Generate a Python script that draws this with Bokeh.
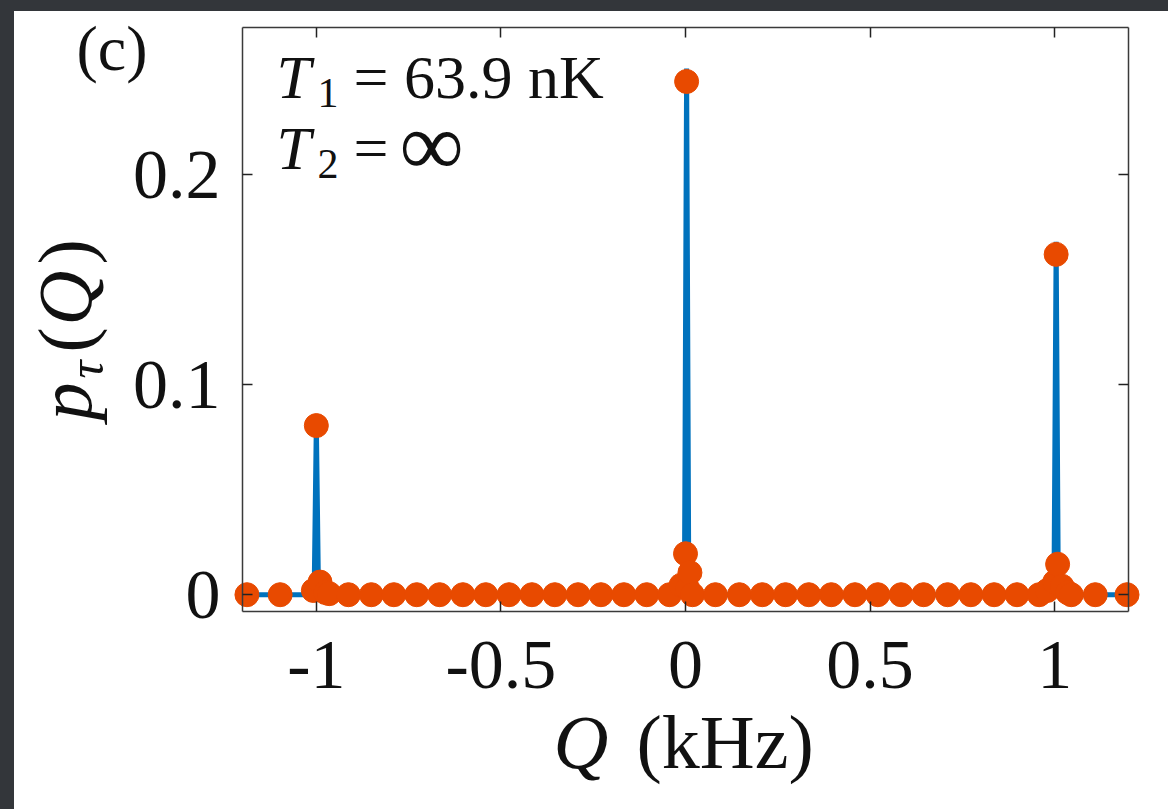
import math
from bokeh.plotting import figure
from bokeh.models import Label, LinearAxis, FixedTicker, Range1d, Spacer
from bokeh.layouts import column, row
from bokeh.embed import file_html
from bokeh.resources import INLINE

# ---- data ----
q_markers = [-1.188, -1.098,
             -1.008, -1.000, -0.990, -0.975, -0.965,
             -0.913, -0.851, -0.790, -0.728, -0.666, -0.603, -0.541, -0.478,
             -0.416, -0.354, -0.291, -0.229, -0.167, -0.105, -0.043,
             -0.012, 0.000, 0.003, 0.006, 0.012,
             0.019, 0.081, 0.146, 0.208, 0.271, 0.334, 0.395, 0.459, 0.521,
             0.584, 0.645, 0.710, 0.773, 0.836, 0.898, 0.958,
             0.980, 1.000, 1.004, 1.008, 1.020, 1.035, 1.045,
             1.110, 1.196]
p_markers = [0.0, 0.0,
             0.002, 0.0805, 0.006, 0.001, 0.0005,
             0.0, 0.0, 0.0, 0.0, 0.0, 0.0, 0.0, 0.0,
             0.0, 0.0, 0.0, 0.0, 0.0, 0.0, 0.0,
             0.0045, 0.0195, 0.2443, 0.003, 0.0105,
             0.0, 0.0, 0.0, 0.0, 0.0, 0.0, 0.0, 0.0, 0.0,
             0.0, 0.0, 0.0, 0.0, 0.0, 0.0, 0.0,
             0.002, 0.006, 0.162, 0.0145, 0.004, 0.001, 0.0,
             0.0, 0.0]

q_line = [-1.188, -1.006, -1.000, -0.994, -0.003, 0.003, 0.009, 0.998, 1.004, 1.010, 1.196]
p_line = [0.0, 0.0, 0.082, 0.0, 0.0, 0.2505, 0.0, 0.0, 0.168, 0.0, 0.0]

x_ticks = [-1, -0.5, 0, 0.5, 1]
x_tick_labels = ["-1", "-0.5", "0", "0.5", "1"]
y_ticks = [0, 0.1, 0.2]
y_tick_labels = ["0", "0.1", "0.2"]

X0, X1 = -1.2, 1.2
Y0, Y1 = -0.008, 0.27

# axes box position on the page (px)
FL, FR, FT, FB = 242, 1128, 27, 611
OFF_X, OFF_Y = 14, 11
W, H = 1168 - OFF_X, 809 - OFF_Y

FONT = "Liberation Serif"
INK = "#111111"
AXC = "#3a3a3a"


def dx(px):
    return X0 + (px - FL) * (X1 - X0) / (FR - FL)


def dy(py):
    return Y1 - (py - FT) * (Y1 - Y0) / (FB - FT)


# the frame covers the whole canvas; the axes box is drawn with fixed-location axes
p = figure(width=W, height=H,
           x_range=Range1d(dx(OFF_X), dx(1168)), y_range=Range1d(dy(809), dy(OFF_Y)),
           output_backend="svg", toolbar_location=None, title=None,
           min_border=0, min_border_left=0, min_border_right=0,
           min_border_top=0, min_border_bottom=0,
           background_fill_color="white", border_fill_color="white")
p.outline_line_color = None
p.xgrid.visible = False
p.ygrid.visible = False


def style_axis(ax, ticks, labels, show_labels, standoff, bounds, loc):
    ax.ticker = FixedTicker(ticks=ticks)
    ax.bounds = bounds
    ax.fixed_location = loc
    ax.minor_tick_line_color = None
    ax.major_tick_in = 10
    ax.major_tick_out = 0
    ax.major_tick_line_color = "#222222"
    ax.major_tick_line_width = 1.5
    ax.axis_line_color = AXC
    ax.axis_line_width = 1.5
    if show_labels:
        ax.major_label_overrides = {t: l for t, l in zip(ticks, labels)}
        ax.major_label_text_font = FONT
        ax.major_label_text_font_size = "70px"
        ax.major_label_text_color = INK
        ax.major_label_standoff = standoff
    else:
        ax.major_label_overrides = {t: "" for t in ticks}
        ax.major_label_text_font_size = "1px"
        ax.major_label_standoff = 0


style_axis(p.xaxis[0], x_ticks, x_tick_labels, True, 30, (X0, X1), Y0)
style_axis(p.yaxis[0], y_ticks, y_tick_labels, True, 22, (Y0, Y1), X0)
top = LinearAxis()
right = LinearAxis()
style_axis(top, x_ticks, x_tick_labels, False, 0, (X0, X1), Y1)
style_axis(right, y_ticks, y_tick_labels, False, 0, (Y0, Y1), X1)
p.add_layout(top, "above")
p.add_layout(right, "right")

p.line(q_line, p_line, line_width=5, line_color="#0072BD")
p.scatter(q_markers, p_markers, marker="circle", size=24,
          fill_color="#E84A00", line_color="#E84A00", line_width=1)

SHIFT = 0.338  # label anchor sits this many em above the baseline as drawn


def lab(text, px, py, size, italic=False, angle=0.0):
    # (px, py): left end of the text baseline on the page
    if angle:
        px = px - SHIFT * size
    else:
        py = py - SHIFT * size
    p.add_layout(Label(x=dx(px), y=dy(py), text=text, text_font=FONT,
                       text_font_size=f"{size}px",
                       text_font_style="italic" if italic else "normal",
                       text_baseline="alphabetic", text_align="left",
                       angle=angle, text_color=INK))


# panel tag
lab("(c)", 76, 70, 64)
# annotation
lab("T", 276, 97, 62, italic=True)
lab("1", 317, 107, 42)
lab("= 63.9 nK", 353, 97, 62)
lab("T", 276, 168, 62, italic=True)
lab("2", 317, 178, 42)
lab("=", 353, 168, 62)
lab("\u221e", 399, 174, 90)
# x label
lab("Q", 553, 767, 76, italic=True)
lab("(kHz)", 636, 767, 76)
# y label (rotated, reads bottom to top)
A = math.pi / 2
lab("p", 90, 420, 76, italic=True, angle=A)
lab("\u03c4", 102, 378, 50, italic=True, angle=A)
lab("(", 90, 352, 76, angle=A)
lab("Q", 90, 325, 76, italic=True, angle=A)
lab(")", 90, 264, 76, angle=A)

BG = {"background-color": "#33363a"}
layout = column(Spacer(width=1168, height=OFF_Y, styles=BG),
                row(Spacer(width=OFF_X, height=H, styles=BG), p))

open("out.html", "w").write(file_html(layout, INLINE))
